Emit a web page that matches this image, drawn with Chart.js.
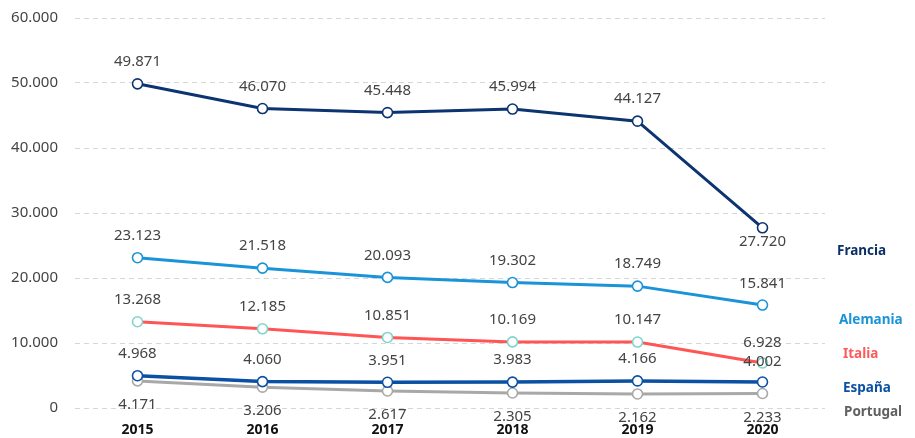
<!DOCTYPE html>
<html>
<head>
<meta charset="utf-8">
<script src="https://cdn.jsdelivr.net/npm/chart.js@4"></script>
<style>
  html, body { margin: 0; padding: 0; background: #fff; }
  #wrap { width: 915px; height: 438px; }
</style>
</head>
<body>
<div id="wrap"><canvas id="chart" width="915" height="438"></canvas></div>
<script>
const years = ['2015', '2016', '2017', '2018', '2019', '2020'];
const francia = [49871, 46070, 45448, 45994, 44127, 27720];
const alemania = [23123, 21518, 20093, 19302, 18749, 15841];
const italia = [13268, 12185, 10851, 10169, 10147, 6928];
const espana = [4968, 4060, 3951, 3983, 4166, 4002];
const portugal = [4171, 3206, 2617, 2305, 2162, 2233];

function fmt(v) {
  return String(Math.round(v)).replace(/\B(?=(\d{3})+(?!\d))/g, '.');
}

const FONT = '"Noto Sans", sans-serif';

function series(label, data, color, markerColor, width, labelPos) {
  return {
    label,
    data,
    borderColor: color,
    borderWidth: width,
    pointRadius: 5,
    pointHoverRadius: 5,
    pointBorderWidth: 1.6,
    pointBackgroundColor: '#ffffff',
    pointBorderColor: markerColor,
    tension: 0,
    labelPos,
  };
}

// value labels next to every point
const valueLabels = {
  id: 'valueLabels',
  afterDatasetsDraw(chart) {
    const ctx = chart.ctx;
    ctx.save();
    ctx.font = '15px ' + FONT;
    ctx.fillStyle = '#444444';
    ctx.textAlign = 'center';
    ctx.textBaseline = 'middle';
    chart.data.datasets.forEach((ds, i) => {
      const meta = chart.getDatasetMeta(i);
      meta.data.forEach((pt, j) => {
        ctx.fillText(fmt(ds.data[j]), pt.x, pt.y + ds.labelPos[j]);
      });
    });
    ctx.restore();
  },
};

// country names on the right side
const seriesNames = {
  id: 'seriesNames',
  afterDraw(chart, args, opts) {
    const ctx = chart.ctx;
    ctx.save();
    ctx.font = 'bold 13.5px ' + FONT;
    ctx.textAlign = 'left';
    ctx.textBaseline = 'middle';
    opts.items.forEach((it) => {
      ctx.fillStyle = it.color;
      ctx.fillText(it.text, it.x, it.y);
    });
    ctx.restore();
  },
};

const below = [24, 24, 24, 24, 24, 24];

new Chart(document.getElementById('chart').getContext('2d'), {
  type: 'line',
  data: {
    labels: years,
    datasets: [
      series('Francia', francia, '#0b3470', '#0b3470', 3, [-22, -22, -22, -22, -22, 14]),
      series('Alemania', alemania, '#1a93d9', '#1a93d9', 3, [-22, -22, -22, -22, -22, -21]),
      series('Italia', italia, '#ff5555', '#7fd4cc', 3, [-22, -22, -22, -22, -22, -20]),
      series('España', espana, '#0a50a3', '#0a50a3', 3.5, [-22, -22, -22, -22, -22, -20]),
      series('Portugal', portugal, '#a8a8a8', '#a8a8a8', 3, below),
    ],
  },
  options: {
    responsive: false,
    animation: false,
    layout: { padding: { top: 18, right: 90, bottom: 0, left: 0 } },
    plugins: {
      legend: { display: false },
      tooltip: { enabled: false },
      seriesNames: {
        items: [
          { text: 'Francia', color: '#0b2f66', x: 837, y: 251 },
          { text: 'Alemania', color: '#1a93d9', x: 839, y: 320 },
          { text: 'Italia', color: '#ff5a5a', x: 843, y: 354 },
          { text: 'España', color: '#0a50a3', x: 843, y: 388 },
          { text: 'Portugal', color: '#606060', x: 844, y: 412 },
        ],
      },
    },
    scales: {
      x: {
        offset: true,
        grid: { display: false, drawTicks: false },
        border: { display: false },
        ticks: {
          color: '#111111',
          font: { family: FONT, size: 14, weight: 'bold' },
          padding: 14,
          maxRotation: 0,
        },
        afterFit(scale) { scale.height = 30; },
      },
      y: {
        min: 0,
        max: 60000,
        grid: {
          color: '#d6d6d6',
          lineWidth: 1,
          drawTicks: false,
        },
        border: { display: false, dash: [5, 4] },
        ticks: {
          stepSize: 10000,
          color: '#444444',
          font: { family: FONT, size: 15 },
          padding: 17,
          callback: (v) => fmt(v),
        },
        afterFit(scale) {
          scale.width = 75;
          scale.paddingTop = 9;
          scale.paddingBottom = 9;
        },
      },
    },
  },
  plugins: [valueLabels, seriesNames],
});
</script>
</body>
</html>
